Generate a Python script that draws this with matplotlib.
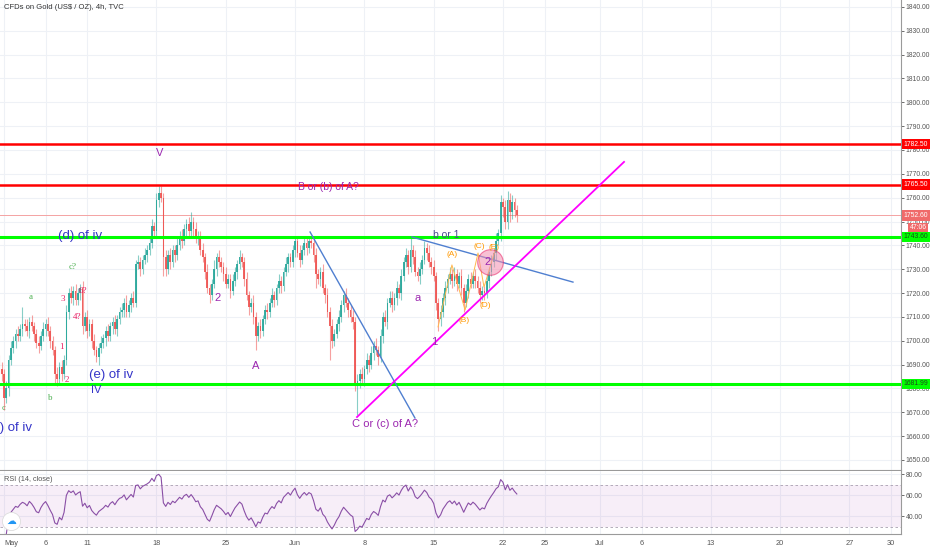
import numpy as np
import pandas as pd
import matplotlib
matplotlib.use("Agg")
import matplotlib.pyplot as plt
from matplotlib.transforms import blended_transform_factory as btf

plt.rcParams['font.family'] = ['Liberation Sans', 'DejaVu Sans']

# ---------------- data ----------------
# warm-up closes (late April, off-screen, used for RSI start)
warm_close = [1712, 1710, 1714, 1709, 1706, 1708, 1704, 1701, 1705, 1709,
              1712, 1715, 1713, 1716, 1712, 1708, 1703, 1699, 1695, 1692]

# 4h closes, bar index -2 .. 222 (6 bars per trading day, bar 0 = 1 May)
first_bar = -2
close = [
    1688, 1686, 1676, 1680, 1692, 1697, 1700, 1703, 1702, 1705,
    1707, 1706, 1704, 1708, 1706, 1703, 1699, 1698, 1702, 1705,
    1707, 1704, 1700, 1696, 1686, 1684, 1689, 1686, 1692, 1712,
    1720, 1718, 1721, 1717, 1720, 1722, 1706, 1710, 1704, 1707,
    1700, 1696, 1693, 1697, 1699, 1701, 1704, 1702, 1706, 1708,
    1705, 1709, 1712, 1713, 1716, 1712, 1715, 1718, 1716, 1732,
    1733, 1730, 1734, 1736, 1738, 1741, 1748, 1746, 1759, 1762,
    1760, 1735, 1730, 1736, 1733, 1738, 1736, 1740, 1744, 1742,
    1747, 1749, 1746, 1750, 1747, 1743, 1744, 1738, 1735, 1729,
    1722, 1719, 1724, 1730, 1735, 1733, 1731, 1728, 1724, 1726,
    1721, 1725, 1729, 1732, 1735, 1733, 1726, 1719, 1714, 1716,
    1710, 1702, 1706, 1704, 1709, 1713, 1712, 1716, 1719, 1717,
    1722, 1725, 1723, 1729, 1732, 1735, 1733, 1738, 1742, 1737,
    1734, 1738, 1741, 1739, 1742, 1741, 1736, 1728, 1726, 1729,
    1722, 1719, 1712, 1706, 1700, 1703, 1707, 1710, 1715, 1719,
    1716, 1713, 1710, 1708, 1681, 1683, 1686, 1684, 1688, 1692,
    1690, 1695, 1698, 1696, 1693, 1702, 1710, 1708, 1716, 1718,
    1715, 1718, 1722, 1720, 1727, 1733, 1736, 1731, 1738, 1735,
    1729, 1727, 1730, 1734, 1739, 1737, 1733, 1731, 1727, 1716,
    1709, 1712, 1718, 1722, 1726, 1728, 1725, 1728, 1724, 1727,
    1722, 1716, 1721, 1726, 1724, 1727, 1725, 1722, 1719, 1721,
    1720, 1725, 1729, 1733, 1737, 1742, 1745, 1758, 1756, 1750,
    1759, 1754, 1758, 1755, 1752.6]

upper_wick = [
    2, 3, 2, 3, 2, 3, 2, 2, 3, 2,
    7, 2, 3, 2, 3, 2, 2, 3, 2, 3,
    2, 3, 2, 2, 2, 3, 2, 3, 2, 3,
    2, 3, 2, 3, 2, 2, 3, 2, 3, 2,
    2, 3, 2, 2, 3, 2, 2, 3, 2, 2,
    3, 2, 2, 3, 2, 3, 2, 2, 3, 2,
    3, 2, 2, 3, 2, 2, 3, 2, 3, 3,
    3, 2, 3, 2, 3, 2, 2, 3, 2, 3,
    2, 2, 3, 4, 2, 3, 2, 2, 3, 2,
    3, 2, 2, 4, 2, 3, 2, 2, 3, 2,
    2, 3, 2, 2, 3, 2, 2, 3, 2, 2,
    3, 2, 2, 3, 2, 2, 3, 2, 3, 2,
    2, 3, 2, 2, 3, 2, 2, 2, 2, 2,
    3, 2, 2, 2, 1, 2, 2, 3, 2, 2,
    3, 2, 3, 2, 3, 2, 2, 3, 2, 2,
    3, 2, 2, 3, 2, 3, 2, 3, 2, 3,
    2, 3, 2, 3, 2, 3, 2, 3, 2, 3,
    3, 2, 3, 2, 3, 2, 3, 2, 5, 2,
    3, 2, 3, 2, 3, 2, 3, 2, 3, 2,
    2, 3, 2, 3, 2, 3, 2, 3, 2, 2,
    3, 2, 3, 2, 3, 2, 3, 2, 3, 2,
    2, 3, 2, 3, 2, 3, 2, 3, 2, 3,
    4, 3, 3, 2, 2]

lower_wick = [
    2, 3, 5, 2, 3, 2, 2, 3, 2, 2,
    3, 2, 2, 3, 2, 3, 2, 3, 2, 2,
    3, 2, 3, 2, 4, 3, 2, 3, 2, 2,
    3, 2, 3, 2, 2, 3, 3, 2, 3, 2,
    3, 2, 2, 3, 2, 2, 3, 2, 2, 3,
    2, 3, 2, 2, 3, 2, 2, 3, 2, 2,
    2, 3, 2, 2, 3, 2, 2, 3, 2, 3,
    2, 8, 3, 2, 3, 2, 3, 2, 2, 3,
    2, 3, 2, 2, 3, 2, 3, 2, 2, 3,
    2, 3, 2, 2, 3, 2, 2, 3, 2, 2,
    3, 2, 2, 3, 2, 2, 3, 2, 3, 2,
    3, 6, 2, 3, 2, 2, 3, 2, 2, 3,
    2, 2, 3, 2, 2, 3, 2, 2, 3, 2,
    3, 2, 2, 3, 2, 2, 3, 6, 2, 3,
    2, 3, 2, 14, 3, 2, 2, 3, 2, 3,
    2, 3, 2, 3, 2, 12, 3, 2, 3, 2,
    3, 2, 3, 2, 3, 2, 3, 2, 3, 2,
    3, 2, 3, 2, 3, 2, 2, 3, 2, 3,
    2, 2, 3, 2, 2, 3, 2, 3, 2, 3,
    5, 3, 2, 3, 2, 2, 3, 2, 3, 2,
    3, 4, 2, 3, 2, 2, 3, 2, 3, 2,
    3, 2, 3, 2, 2, 3, 2, 3, 4, 3,
    3, 4, 3, 3, 3]

# horizontal levels
res_levels = [1782.50, 1765.50]
sup_levels = [1743.60, 1681.99]
last_price = 1752.60
countdown = "47:06"

# trend lines (bar index, price)
blue_line1 = ([132.5, 177.9], [1745.6, 1667.6])
blue_line2 = ([176.6, 246.3], [1743.5, 1724.6])
magenta_line = ([152.8, 268.4], [1668.0, 1775.0])
orange_zigzag = ([187.9, 193.9, 199.6, 205.2, 207.8, 212.6],
                 [1705.8, 1731.8, 1712.9, 1736.8, 1722.5, 1738.1])
circle_pt = (210.4, 1733.0)

# time axis ticks (trading-day index, 6 bars/day)
tick_days = [0, 3, 6, 11, 16, 21, 26, 31, 36, 39, 43, 46, 51, 56, 61, 64]
tick_labels = ["May", "6", "11", "18", "25", "Jun", "8", "15", "22", "25",
               "Jul", "6", "13", "20", "27", "30"]
price_ticks = list(range(1650, 1841, 10))
rsi_ticks = [40, 60, 80]

# wave labels: (text, bar, price, colour, size, family)
PURPLE = "#9c27b0"
BLUE = "#3434c8"
GREEN = "#4caf50"
PINK = "#e91e63"
ORANGE = "#ff9800"
labels = [
    ("V", 67.5, 1778.8, PURPLE, 8, "sans"),
    ("B or (b) of A?", 140.3, 1764.5, PURPLE, 7.5, "sans"),
    ("(d) of iv", 32.9, 1743.9, BLUE, 9.5, "sans"),
    ("c?", 29.9, 1731.0, GREEN, 6.5, "serif"),
    ("a", 11.7, 1718.4, GREEN, 6.5, "serif"),
    ("3", 25.5, 1717.5, PINK, 6.5, "serif"),
    ("6?", 34.2, 1720.9, PINK, 6.5, "serif"),
    ("4?", 31.6, 1710.0, PINK, 6.5, "serif"),
    ("1", 24.7, 1697.4, PINK, 6.5, "serif"),
    ("2", 27.3, 1683.5, PINK, 6.5, "serif"),
    ("b", 19.9, 1676.0, GREEN, 6.5, "serif"),
    ("(e) of iv", 46.3, 1685.6, BLUE, 9.5, "sans"),
    ("IV", 39.8, 1679.3, BLUE, 8, "sans"),
    ("c", -0.4, 1672.0, GREEN, 6, "serif"),
    ("2", 92.6, 1718.0, PURPLE, 8, "sans"),
    ("A", 109.1, 1689.4, PURPLE, 8, "sans"),
    ("C or (c) of A?", 164.9, 1665.0, PURPLE, 8, "sans"),
    ("a", 179.2, 1718.0, PURPLE, 8, "sans"),
    ("b or 1", 191.3, 1744.2, "#4b4b8f", 7.5, "sans"),
    ("1", 186.1, 1699.5, PURPLE, 8, "sans"),
    ("(A)", 193.9, 1736.3, ORANGE, 6, "sans"),
    ("(B)", 199.1, 1708.7, ORANGE, 6, "sans"),
    ("(C)", 205.6, 1739.7, ORANGE, 6, "sans"),
    ("(D)", 208.2, 1714.6, ORANGE, 6, "sans"),
    ("(E)", 212.1, 1738.9, ORANGE, 6, "sans"),
    ("2", 209.5, 1733.0, PURPLE, 8, "sans"),
]

# ---------------- figure ----------------
fig = plt.figure(figsize=(9.32, 5.5), dpi=100)
fig.patch.set_facecolor("white")
ax = fig.add_axes([0, 80 / 550, 901 / 932, 470 / 550])
axr = fig.add_axes([0, 16 / 550, 901 / 932, 63 / 550], sharex=ax)

bars_per_day = 6
x = np.arange(first_bar, first_bar + len(close))
c = np.array(close, dtype=float)
o = np.r_[warm_close[-1], c[:-1]]
hi = np.maximum(o, c) + np.array(upper_wick)
lo = np.minimum(o, c) - np.array(lower_wick)
up = c >= o
UPC, DNC = "#26a69a", "#ef5350"
cols = np.where(up, UPC, DNC)

xmin, xmax = -1.73, 388.3
ax.set_xlim(xmin, xmax)
ax.set_ylim(1645.8, 1842.9)
axr.set_ylim(23.3, 82.9)

# grid
GRID = "#eef1f6"
tick_pos = [d * bars_per_day for d in tick_days]
for a in (ax, axr):
    for t in tick_pos:
        a.axvline(t, color=GRID, lw=0.8, zorder=0)
for p in price_ticks:
    ax.axhline(p, color=GRID, lw=0.8, zorder=0)
for r in rsi_ticks:
    axr.axhline(r, color=GRID, lw=0.8, zorder=0)

# candles
ax.vlines(x, lo, hi, colors=cols, lw=0.8, alpha=0.55, zorder=2)
body = np.maximum(np.abs(c - o), 0.3)
ax.bar(x, body, bottom=np.minimum(o, c), width=0.75, color=cols, alpha=0.9,
       linewidth=0, zorder=3)

# levels
ax.axhline(last_price, color="#f4a3a3", lw=0.7, zorder=1)
for lv in res_levels:
    ax.axhline(lv, color="#ff0000", lw=1.8, zorder=4)
for lv in sup_levels:
    ax.axhline(lv, color="#00ff00", lw=2.2, zorder=4)

# drawings
ax.plot(*blue_line1, color="#4f7fd0", lw=1.0, zorder=5)
ax.plot(*blue_line2, color="#4f7fd0", lw=1.0, zorder=5)
ax.plot(*magenta_line, color="#ff00ff", lw=1.3, zorder=5)
ax.plot(*orange_zigzag, color="#ffb74d", lw=0.7, zorder=5)
ax.scatter([circle_pt[0]], [circle_pt[1]], s=340, facecolor="#f48fb1",
           edgecolor="#e91e63", linewidth=0.8, alpha=0.55, zorder=6)

for txt, bx, py, col, fs, fam in labels:
    family = ['Liberation Serif', 'DejaVu Serif'] if fam == "serif" else ['Liberation Sans', 'DejaVu Sans']
    ax.text(bx, py, txt, color=col, fontsize=fs, ha="center", va="center",
            family=family, zorder=7, clip_on=True)
# label partly hidden behind the left edge (as in the reference)
ax.text(12.1, 1663.4, "(a) of iv", color=BLUE, fontsize=9.5, ha="right",
        va="center", zorder=7, clip_on=True)

ax.text(0.004, 0.992, r"CFDs on Gold (US\$ / OZ), 4h, TVC", transform=ax.transAxes,
        ha="left", va="top", fontsize=5.5, color="#333333")

# price axis
ax.yaxis.tick_right()
ax.set_yticks(price_ticks)
ax.set_yticklabels([f"{p:.2f}" for p in price_ticks])
ax.tick_params(axis="y", labelsize=4.9, colors="#555555", length=2,
               width=0.6, pad=1.5)
ax.tick_params(axis="x", length=0, labelbottom=False)
for s in ("top", "left"):
    ax.spines[s].set_visible(False)
for s in ("right", "bottom"):
    ax.spines[s].set_color("#9a9a9a")
    ax.spines[s].set_linewidth(0.8)

# price tags
tr = btf(ax.transAxes, ax.transData)
def tag(y, txt, fc, tc, xoff=1.003):
    ax.text(xoff, y, txt, transform=tr, ha="left", va="center", fontsize=4.9,
            color=tc, zorder=20, clip_on=False,
            bbox=dict(boxstyle="square,pad=0.25", fc=fc, ec="none"))
for lv in res_levels:
    tag(lv, f"{lv:.2f}", "#ff0000", "white")
tag(last_price, f"{last_price:.2f}", "#f06a6a", "white")
tag(1747.4, countdown, "#f06a6a", "white", xoff=1.0095)
for lv in sup_levels:
    tag(lv, f"{lv:.2f}", "#00ff00", "#1a4d1a")

# ---------------- RSI ----------------
full = pd.Series(list(warm_close) + list(close), dtype=float)
d = full.diff()
gain = d.clip(lower=0).ewm(alpha=1 / 14, adjust=False).mean()
loss = (-d.clip(upper=0)).ewm(alpha=1 / 14, adjust=False).mean()
rsi = 100 - 100 / (1 + gain / loss)
rsi_vis = rsi.values[len(warm_close):]

axr.axhspan(30, 70, color="#9c27b0", alpha=0.08, lw=0, zorder=0)
axr.axhline(70, color="#a8a0b0", lw=0.6, ls=(0, (3, 3)))
axr.axhline(30, color="#a8a0b0", lw=0.6, ls=(0, (3, 3)))
axr.plot(x, rsi_vis, color="#8a4fa6", lw=0.8, zorder=3)
axr.text(0.004, 0.86, "RSI (14, close)", transform=axr.transAxes, ha="left",
         va="center", fontsize=5.3, color="#555555")
# logo
axr.scatter([3.0], [35.5], s=170, facecolor="white", edgecolor="#dddddd",
            linewidth=0.6, zorder=8, clip_on=False)
axr.text(3.0, 35.5, "\u2601", color="#2196f3", fontsize=7, ha="center",
         va="center", zorder=9, family=['DejaVu Sans'])

axr.yaxis.tick_right()
axr.set_yticks(rsi_ticks)
axr.set_yticklabels([f"{r:.2f}" for r in rsi_ticks])
axr.tick_params(axis="y", labelsize=4.9, colors="#555555", length=2,
                width=0.6, pad=1.5)
axr.set_xticks(tick_pos)
axr.set_xticklabels(tick_labels)
axr.tick_params(axis="x", labelsize=5.3, colors="#555555", length=0, pad=4)
xl = axr.get_xticklabels()
xl[0].set_horizontalalignment("left")
for s in ("top", "left"):
    axr.spines[s].set_visible(False)
for s in ("right", "bottom"):
    axr.spines[s].set_color("#9a9a9a")
    axr.spines[s].set_linewidth(0.8)

fig.savefig("out.png", dpi=100)
